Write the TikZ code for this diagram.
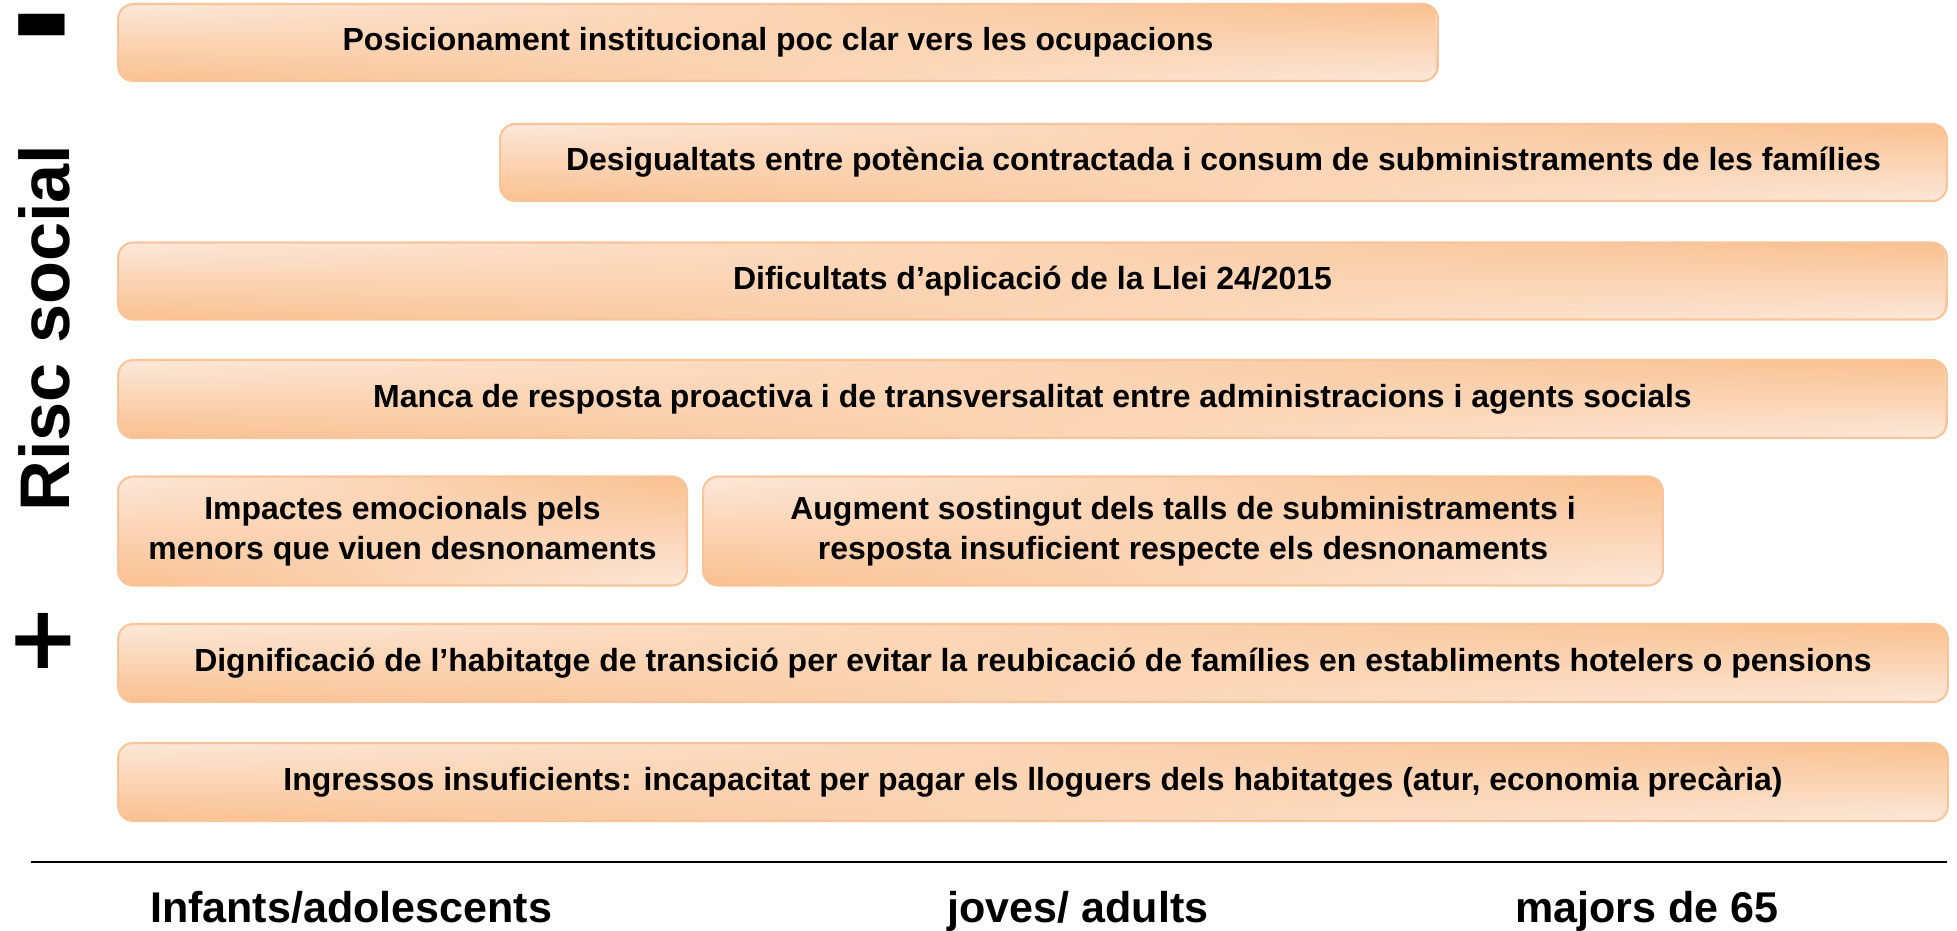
\documentclass[tikz,border=0pt]{standalone}
\usepackage{fontspec}
\setmainfont{Liberation Sans}
\newfontfamily\signfont{DejaVu Sans}
\usetikzlibrary{fadings}

\definecolor{boxlight}{HTML}{FDE9DA}
\definecolor{boxdark}{HTML}{F9C08F}
\definecolor{boxedge}{HTML}{F9C499}

\begin{document}
\begin{tikzpicture}[x=0.02cm,y=-0.02cm,
  box/.style={draw=boxedge,line width=1.2pt,rounded corners=0.3cm,
    preaction={top color=boxlight,bottom color=boxdark},
    preaction={path fading=west,top color=boxdark,bottom color=boxlight},
    align=center,inner sep=0pt,
    font=\fontsize{18.2}{23}\selectfont\bfseries},
  group/.style={anchor=base,font=\fontsize{24.5}{28}\selectfont\bfseries},
  sign/.style={anchor=center,inner sep=0pt,outer sep=0pt}]
  \useasboundingbox (0,0) rectangle (1957,930);

  % eix vertical
  \node[rotate=90,anchor=base,font=\fontsize{40}{48}\selectfont\bfseries] (risc) at (69,328) {Risc social};
  \node[sign,font=\signfont\fontsize{86}{96}\selectfont\bfseries] (menys) at (42,41) {-};
  \node[sign,font=\signfont\fontsize{50}{60}\selectfont\bfseries] (mes) at (43,641) {+};

  % factors
  \node[box,minimum width=26.4cm,minimum height=1.54cm] (ocupacions) at (778,42.5)
    {Posicionament institucional poc clar vers les ocupacions};
  \node[box,minimum width=28.94cm,minimum height=1.54cm] (potencia) at (1223.5,162.5)
    {Desigualtats entre potència contractada i consum de subministraments de les famílies};
  \node[box,minimum width=36.58cm,minimum height=1.54cm] (llei) at (1032.5,281)
    {Dificultats d’aplicació de la Llei 24/2015};
  \node[box,minimum width=36.58cm,minimum height=1.56cm] (resposta) at (1032.5,399)
    {Manca de resposta proactiva i de transversalitat entre administracions i agents socials};
  \node[box,minimum width=11.38cm,minimum height=2.18cm] (impactes) at (402.5,531)
    {Impactes emocionals pels\\menors que viuen desnonaments};
  \node[box,minimum width=19.2cm,minimum height=2.18cm] (talls) at (1183,531)
    {Augment sostingut dels talls de subministraments i\\resposta insuficient respecte els desnonaments};
  \node[box,minimum width=36.6cm,minimum height=1.56cm] (transicio) at (1033,663)
    {Dignificació de l’habitatge de transició per evitar la reubicació de famílies en establiments hotelers o pensions};
  \node[box,minimum width=36.6cm,minimum height=1.56cm] (ingressos) at (1033,782)
    {Ingressos insuficients: incapacitat per pagar els lloguers dels habitatges (atur, economia precària)};

  % eix horitzontal
  \coordinate (eixA) at (31,862);
  \coordinate (eixB) at (1947,862);
  \draw[line width=1.1pt] (eixA) -- (eixB);

  \node[group] (infants) at (351,922) {Infants/adolescents};
  \node[group] (adults) at (1078,922) {joves/ adults};
  \node[group] (majors) at (1647,922) {majors de 65};
\end{tikzpicture}
\end{document}
